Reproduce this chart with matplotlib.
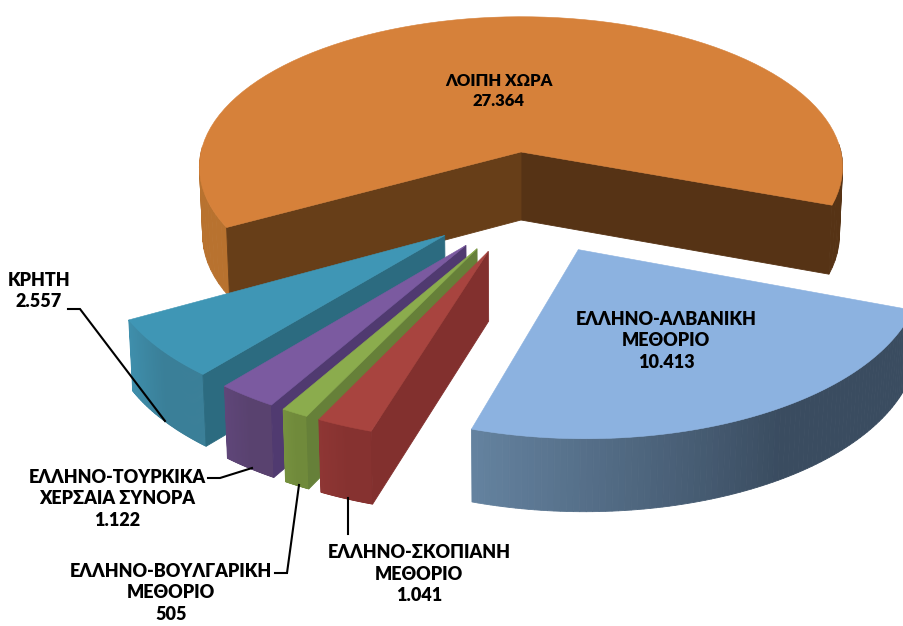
#!/usr/bin/env python3
"""Exploded 3D pie, drawn by hand because matplotlib has no perspective pie."""
import numpy as np
import matplotlib
matplotlib.use("Agg")
import matplotlib.pyplot as plt
from matplotlib.colors import to_rgb

plt.rcParams["font.family"] = ["Lato", "Noto Sans", "DejaVu Sans"]

categories = ["ΛΟΙΠΗ ΧΩΡΑ", "ΚΡΗΤΗ", "ΕΛΛΗΝΟ-ΤΟΥΡΚΙΚΑ\nΧΕΡΣΑΙΑ ΣΥΝΟΡΑ",
              "ΕΛΛΗΝΟ-ΒΟΥΛΓΑΡΙΚΗ\nΜΕΘΟΡΙΟ", "ΕΛΛΗΝΟ-ΣΚΟΠΙΑΝΗ\nΜΕΘΟΡΙΟ",
              "ΕΛΛΗΝΟ-ΑΛΒΑΝΙΚΗ\nΜΕΘΟΡΙΟ"]
values = [27364, 2557, 1122, 505, 1041, 10413]

# projection, all in screen pixels
OX, OY = 521, 152      # apex of the big slice
R = 320
K = 0.465              # flattening of the circle
P = 0.10               # perspective strength
DEPTH = 68
EXPLODE = 0.325
START = -20.2          # where the big slice starts, counter-clockwise

top_col = ["#D6813A", "#3F96B5", "#7B5AA0", "#8BAC4D", "#A8443F", "#8CB2E0"]
edge_col = ["#673E18", "#2C6B80", "#503A70", "#668039", "#82302E", "#3A4D62"]  # radial faces
right_col = "#563315"  # radial face and rim on the right of the big slice
outer_col = [("#D08038", "#B8722F"), ("#3F8FAC", "#3A7F98"), ("#5F4679", "#59426F"),
             ("#76913F", "#708A3B"), ("#8E3634", "#863230"), ("#64829F", "#3A4C60")]
draw_order = [0, 5, 1, 2, 3, 4]


def project(x, y, bottom=False):
    f = 1 / (1 + P * y)
    sx = x * R * f
    sy = -K * y * R * f
    if bottom:
        return OX + sx * 0.99, OY + sy + DEPTH * f ** 0.4
    return OX + sx, OY + sy


def arc(cx, cy, a0, a1, n=60):
    t = np.radians(np.linspace(a0, a1, n))
    return cx + np.cos(t), cy + np.sin(t)


fig = plt.figure(figsize=(9.04, 6.26), dpi=100)
ax = fig.add_axes([0, 0, 1, 1])
ax.set_xlim(0, 904)
ax.set_ylim(626, 0)
ax.axis("off")

angles = START + np.cumsum([0] + values) / sum(values) * 360
mid0 = np.radians((angles[0] + angles[1]) / 2)
base = (-EXPLODE * np.cos(mid0), -EXPLODE * np.sin(mid0))  # true centre of the pie

for z, i in enumerate(draw_order):
    a0, a1 = angles[i], angles[i + 1]
    mid = np.radians((a0 + a1) / 2)
    cx = base[0] + EXPLODE * np.cos(mid)
    cy = base[1] + EXPLODE * np.sin(mid)
    arc_x, arc_y = arc(cx, cy, a0, a1, 90)

    # outer curved face: only the part that looks at the viewer
    t = np.linspace(a0, a1, 90)
    c0, c1 = np.array(to_rgb(outer_col[i][0])), np.array(to_rgb(outer_col[i][1]))
    vis = np.sin(np.radians(t)) < 0.03
    tv = t[vis]
    for j in range(len(t) - 1):
        if not (vis[j] or vis[j + 1]):
            continue
        w = (t[j] - tv.min()) / max(tv.max() - tv.min(), 1)
        col = c0 + (c1 - c0) * min(w * 1.8, 1)
        if i == 0 and t[j] < 90:
            col = right_col
        tx0, ty0 = project(arc_x[j], arc_y[j])
        tx1, ty1 = project(arc_x[j + 1], arc_y[j + 1])
        bx0, by0 = project(arc_x[j], arc_y[j], True)
        bx1, by1 = project(arc_x[j + 1], arc_y[j + 1], True)
        ax.fill([tx0, tx1, bx1, bx0], [ty0, ty1, by1, by0], color=col, lw=0.6, zorder=1 + z * 10)

    # radial faces, when they look at the viewer
    for a, normal, col in ((a0, a0 - 90, right_col), (a1, a1 + 90, edge_col[i])):
        if np.sin(np.radians(normal)) >= 0:
            continue
        ex, ey = cx + np.cos(np.radians(a)), cy + np.sin(np.radians(a))
        p = [project(cx, cy), project(ex, ey), project(ex, ey, True), project(cx, cy, True)]
        ax.fill([q[0] for q in p], [q[1] for q in p], color=col, lw=0.6, zorder=2 + z * 10)

    # top face
    sx, sy = project(np.r_[cx, arc_x], np.r_[cy, arc_y])
    ax.fill(sx, sy, color=top_col[i], lw=0.4, zorder=3 + z * 10)

# leader lines
leaders = [([68, 80, 165], [309, 309, 421]),
           ([208, 220, 252], [478, 478, 468]),
           ([275, 287, 299], [573, 573, 485]),
           ([348, 348], [498, 534])]
for lx, ly in leaders:
    ax.plot(lx, ly, color="black", lw=1.5, zorder=200, solid_joinstyle="miter")

# labels
label_pos = [(499, 91), (39, 291), (117, 499), (171, 593), (419, 574), (666, 341)]
label_size = [12.0, 13.0, 13.0, 13.0, 13.0, 13.0]
for name, val, (x, y), size in zip(categories, values, label_pos, label_size):
    txt = f"{name}\n{val:,}".replace(",", ".")
    ax.text(x, y, txt, ha="center", va="center", fontsize=size, fontweight=800,
            color="black", linespacing=1.3, zorder=300)

fig.savefig("out.png", dpi=100)
